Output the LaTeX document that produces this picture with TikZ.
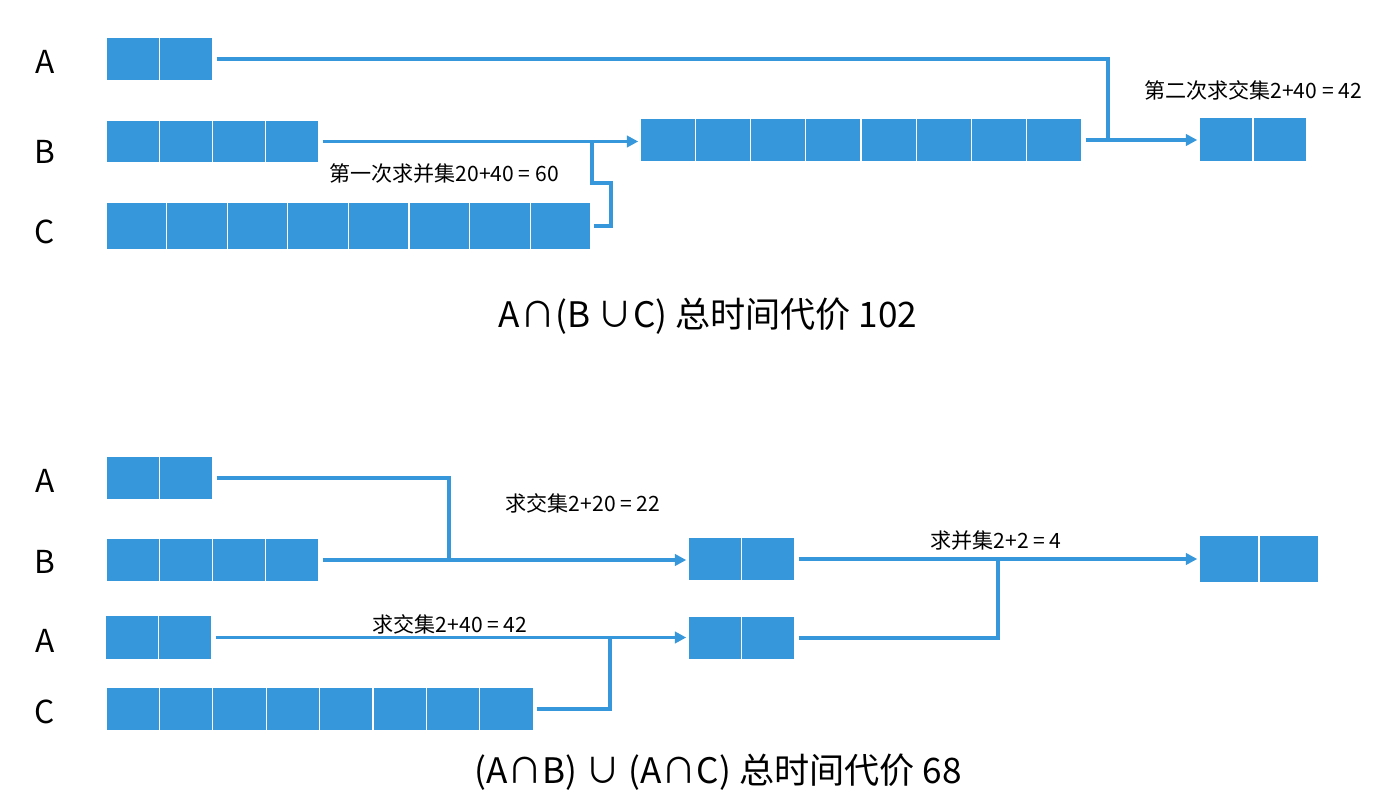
\documentclass[tikz,border=0pt]{standalone}
\usepackage{fontspec}
\setmainfont{Noto Sans CJK SC}
\usetikzlibrary{calc,arrows.meta,positioning}
\definecolor{cellblue}{HTML}{3797DB}
\newcommand{\cellrow}[6]{\node[rowbox,minimum width={#4*#5*0.02cm},minimum height={#6*0.02cm}] (#1) at (#2,#3) {};
\foreach \k in {1,...,#4}{\fill[cellblue,draw=white,line width=.6pt] ($(#1.north west)+({(\k-1)*#5},0)$) rectangle ++(#5,#6);}}

\begin{document}
\begin{tikzpicture}[x=0.02cm,y=-0.02cm,rowbox/.style={inner sep=0,outer sep=0,anchor=north west},
link/.style={draw=cellblue,line width=1.9pt,shorten <=2pt},arr/.style={link,-{Triangle[length=6.5pt,width=6.5pt]},shorten >=1pt},
lab/.style={font=\fontsize{18}{20}\selectfont},note/.style={font=\fontsize{12}{14}\selectfont},total/.style={font=\fontsize{20}{22}\selectfont}]
\useasboundingbox (0,0) rectangle (1376,807);
\cellrow{a1}{106}{37}{2}{53.5}{44}
\cellrow{b1}{106}{120}{4}{53.25}{43}
\cellrow{c1}{106}{202}{8}{60.6}{48}
\cellrow{u1}{640}{118}{8}{55.25}{44}
\cellrow{r1}{1199}{117}{2}{54}{45}
\node[lab] (la1) at (45,62) {A};\node[lab] (lb1) at (45,152) {B};\node[lab] (lc1) at (45,232) {C};
\coordinate (j1) at (592,141);\coordinate (j2) at (611,183);\coordinate (j3) at (1108,140);
\draw[arr] (b1.east)--(b1.east -| u1.west);\draw[link] (c1.east) -| (j2) -| (j1);
\draw[link] (a1.east) -| (j3);\draw[arr] (u1.east)--(u1.east -| r1.west);
\node[note] (n1) at (444,174) {第一次求并集20+40 = 60};
\node[note] (n2) at (1253,90) {第二次求交集2+40 = 42};
\node[total] (t1) at (708,316) {A∩(B ∪C) 总时间代价 102};
\cellrow{a2}{106}{456}{2}{53.5}{44}
\cellrow{b2}{106}{538}{4}{53.25}{44}
\cellrow{a3}{105}{615}{2}{53.5}{45}
\cellrow{c2}{106}{687}{8}{53.4}{44}
\cellrow{i1}{688}{537}{2}{53.5}{44}
\cellrow{i2}{688}{616}{2}{53.5}{44}
\cellrow{r2}{1199}{535}{2}{60}{48}
\node[lab] (la2) at (45,481) {A};\node[lab] (lb2) at (45,562) {B};\node[lab] (la3) at (45,641) {A};\node[lab] (lc2) at (45,712) {C};
\coordinate (j4) at (449,560);\coordinate (j5) at (610,638);\coordinate (j6) at (998,559);
\draw[link] (a2.east) -| (j4);\draw[arr] (b2.east)--(b2.east -| i1.west);
\draw[arr] (a3.east)--(a3.east -| i2.west);\draw[link] (c2.east) -| (j5);
\draw[arr] (i1.east)--(i1.east -| r2.west);\draw[link] (i2.east) -| (j6);
\node[note] (n3) at (583,503) {求交集2+20 = 22};
\node[note] (n4) at (450,624) {求交集2+40 = 42};
\node[note] (n5) at (996,541) {求并集2+2 = 4};
\node[total] (t2) at (718,772) {(A∩B) ∪ (A∩C) 总时间代价 68};
\end{tikzpicture}
\end{document}
